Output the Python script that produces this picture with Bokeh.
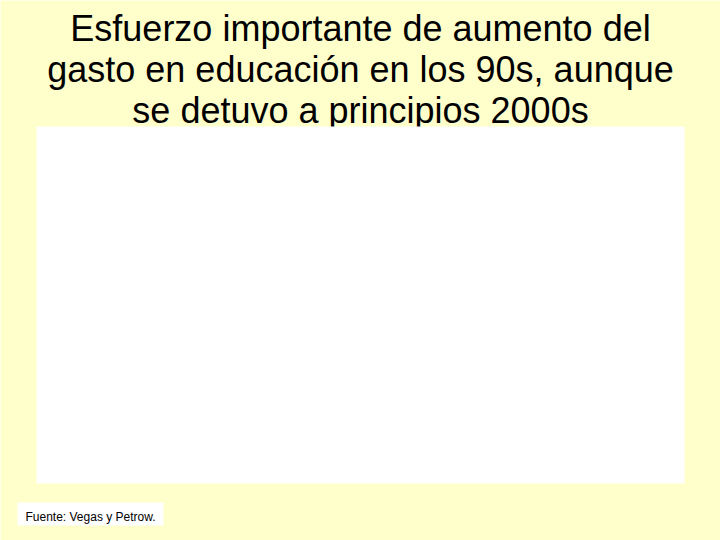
from bokeh.plotting import figure
from bokeh.models import Range1d, ColumnDataSource
from bokeh.core.properties import value
from bokeh.embed import file_html
from bokeh.resources import INLINE

title_lines = [
    "Esfuerzo importante de aumento del",
    "gasto en educación en los 90s, aunque",
    "se detuvo a principios 2000s",
]
source_note = ["Fuente: Vegas y Petrow."]

BG = "#FFFFCC"
p = figure(width=720, height=540, output_backend="svg", toolbar_location=None,
           x_range=Range1d(0, 720), y_range=Range1d(540, 0),
           min_border=0, min_border_left=0, min_border_right=0,
           min_border_top=0, min_border_bottom=0)
p.axis.visible = False
p.grid.visible = False
p.outline_line_color = None
p.background_fill_color = BG
p.border_fill_color = BG

# title
tsrc = ColumnDataSource(dict(x=[360] * 3, y=[28, 69, 110], t=title_lines))
p.text(x="x", y="y", text="t", source=tsrc, text_font=value("Liberation Sans"),
       text_font_size="36px", text_align="center", text_baseline="alphabetic",
       text_color="black")

# empty white chart area
p.quad(left=[36], right=[684], top=[126], bottom=[483], fill_color="white", line_color=None)

# source box
p.quad(left=[17], right=[163], top=[502], bottom=[525], fill_color="white", line_color=None)
p.text(x=[25], y=[516], text=source_note, text_font=value("Liberation Sans"),
       text_font_size="12px", text_align="left", text_baseline="alphabetic",
       text_color="black")

open("out.html", "w").write(file_html(p, INLINE))
